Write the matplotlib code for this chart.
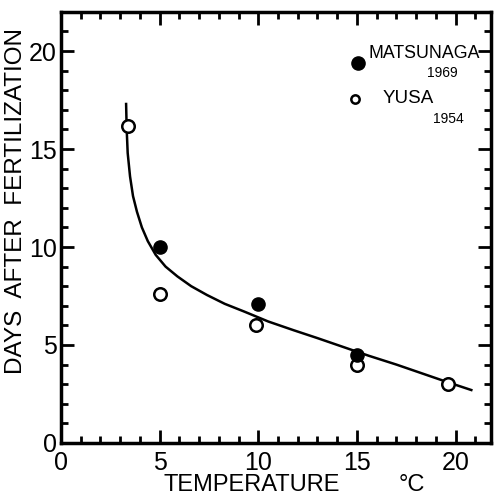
import numpy as np
import matplotlib.pyplot as plt
from matplotlib.ticker import MultipleLocator

plt.rcParams['font.family'] = ['Liberation Sans', 'DejaVu Sans']

# data
yusa_temp = [3.4, 5.0, 9.9, 15.0, 19.6]
yusa_days = [16.2, 7.6, 6.0, 4.0, 3.0]
matsu_temp = [5.0, 10.0, 15.0]
matsu_days = [10.0, 7.1, 4.5]

# fitted curve, points traced by eye
curve_temp = [3.3, 3.33, 3.38, 3.5, 3.65, 3.85, 4.1, 4.4, 4.8, 5.3, 5.9, 6.6, 7.4,
              8.3, 9.3, 10.5, 11.8, 13.0, 14.3, 15.6, 17.0, 18.3, 19.6, 20.8]
curve_days = [17.3, 16.0, 14.8, 13.6, 12.6, 11.8, 11.0, 10.3, 9.6, 9.0, 8.5, 8.0, 7.55,
              7.1, 6.7, 6.2, 5.75, 5.35, 4.9, 4.45, 4.0, 3.55, 3.1, 2.7]

fig = plt.figure(figsize=(4.96, 4.96), dpi=100)
ax = fig.add_axes([0.123, 0.107, 0.867, 0.869])

ax.plot(curve_temp, curve_days, color='black', lw=1.8, zorder=2)
ax.plot(yusa_temp, yusa_days, 'o', ms=9, mfc='white', mec='black', mew=1.8, zorder=3)
ax.plot(matsu_temp, matsu_days, 'o', ms=9.5, mfc='black', mec='black', zorder=3)

ax.set_xlim(0, 21.8)
ax.set_ylim(0, 22)
ax.xaxis.set_major_locator(MultipleLocator(5))
ax.xaxis.set_minor_locator(MultipleLocator(1))
ax.yaxis.set_major_locator(MultipleLocator(5))
ax.yaxis.set_minor_locator(MultipleLocator(1))
ax.tick_params(which='both', direction='in', top=True, right=True, width=2, labelsize=18)
ax.tick_params(which='major', length=9.5)
ax.tick_params(which='minor', length=5)
ax.tick_params(axis='y', pad=3)
ax.tick_params(axis='x', pad=6)
for s in ax.spines.values():
    s.set_linewidth(2.5)

ax.text(-0.105, 0.561, 'DAYS  AFTER  FERTILIZATION', transform=ax.transAxes,
        fontsize=17.5, rotation=90, ha='center', va='center')
ax.text(0.444, -0.0975, 'TEMPERATURE', transform=ax.transAxes, fontsize=17,
        ha='center', va='center')
ax.text(0.816, -0.0975, '°C', transform=ax.transAxes, fontsize=17,
        ha='center', va='center')

# legend drawn by hand
ax.plot([0.69], [0.882], 'o', ms=9.5, mfc='black', mec='black', transform=ax.transAxes)
ax.text(0.714, 0.903, 'MATSUNAGA', transform=ax.transAxes, fontsize=12.8, va='center')
ax.text(0.851, 0.858, '1969', transform=ax.transAxes, fontsize=10, va='center')
ax.plot([0.684], [0.798], 'o', ms=6, mfc='white', mec='black', mew=1.8,
        transform=ax.transAxes)
ax.text(0.747, 0.798, 'YUSA', transform=ax.transAxes, fontsize=13.5, va='center')
ax.text(0.865, 0.752, '1954', transform=ax.transAxes, fontsize=10, va='center')

fig.savefig('out.png', dpi=100)
